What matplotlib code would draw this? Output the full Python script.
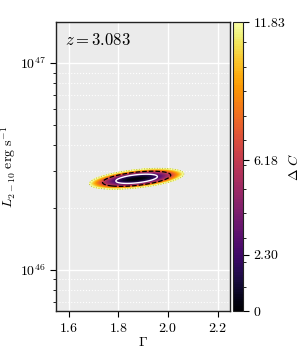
import numpy as np
import matplotlib
matplotlib.use("Agg")
import matplotlib.pyplot as plt
from matplotlib.ticker import FixedLocator

plt.rcParams['font.family'] = 'serif'
plt.rcParams['font.serif'] = ['cmr10']
plt.rcParams['mathtext.fontset'] = 'cm'
plt.rcParams['axes.formatter.use_mathtext'] = True
plt.rcParams['font.size'] = 10

# Fit result
redshift_label = "$z = 3.083$"
gamma_best = 1.874
logL_best = 46.44
sigma_gamma = 0.0552
sigma_logL_cond = 0.013
slope_logL_gamma = 0.126

dc_levels = [2.30, 6.18, 11.83]
dc_tick_labels = ["0", "2.30", "6.18", "11.83"]
line_colors = ["white", "black", "#b8b840"]
line_styles = ["solid", "dashed", "dotted"]

xlim = (1.55, 2.25)
ylim = (6.3e45, 1.58e47)
xticks = [1.6, 1.8, 2.0, 2.2]

g = np.linspace(xlim[0], xlim[1], 500)
lg = np.linspace(np.log10(ylim[0]), np.log10(ylim[1]), 500)
G, LG = np.meshgrid(g, lg)
u = G - gamma_best
v = LG - logL_best - slope_logL_gamma * u
DC = (u / sigma_gamma) ** 2 + (v / sigma_logL_cond) ** 2
L = 10 ** LG

fig = plt.figure(figsize=(3.0, 3.5), dpi=100)
ax = fig.add_axes([0.187, 0.111, 0.58, 0.826])
cax = fig.add_axes([0.777, 0.111, 0.033, 0.826])

ax.set_facecolor('#EBEBEB')
ax.set_yscale('log')
ax.set_xlim(*xlim)
ax.set_ylim(*ylim)

cf = ax.contourf(G, L, DC, levels=np.linspace(0, dc_levels[-1], 120), cmap='inferno',
                 vmin=0, vmax=dc_levels[-1])
ax.contour(G, L, DC, levels=dc_levels, colors=line_colors, linestyles=line_styles,
           linewidths=[1.0, 0.9, 0.7])

ax.set_xticks(xticks)
ax.grid(True, which='major', color='white', lw=1.0, zorder=0)
ax.grid(True, which='minor', axis='y', color='white', lw=0.8, ls=':', zorder=0)
ax.set_axisbelow(True)
ax.tick_params(which='both', direction='out', top=False, right=False)
ax.tick_params(which='major', length=4)
ax.tick_params(which='minor', length=2.5)
for s in ax.spines.values():
    s.set_color('#222222')
    s.set_linewidth(1.0)

ax.set_xlabel(r"$\Gamma$", labelpad=1)
ax.set_ylabel(r"$L_{2-10}\ \mathrm{erg\ s^{-1}}$", labelpad=1)
ax.text(0.05, 0.965, redshift_label, transform=ax.transAxes, ha='left', va='top',
        fontsize=12)

cb = fig.colorbar(cf, cax=cax, ticks=[0] + dc_levels)
cb.ax.set_yticklabels(dc_tick_labels)
cb.ax.yaxis.set_minor_locator(FixedLocator(np.arange(1, 12)))
cb.ax.tick_params(which='major', length=4)
cb.ax.tick_params(which='minor', length=2.5)
cb.set_label(r"$\Delta\ C$", labelpad=1)
cb.outline.set_edgecolor('#222222')

fig.savefig("out.png", dpi=100)
